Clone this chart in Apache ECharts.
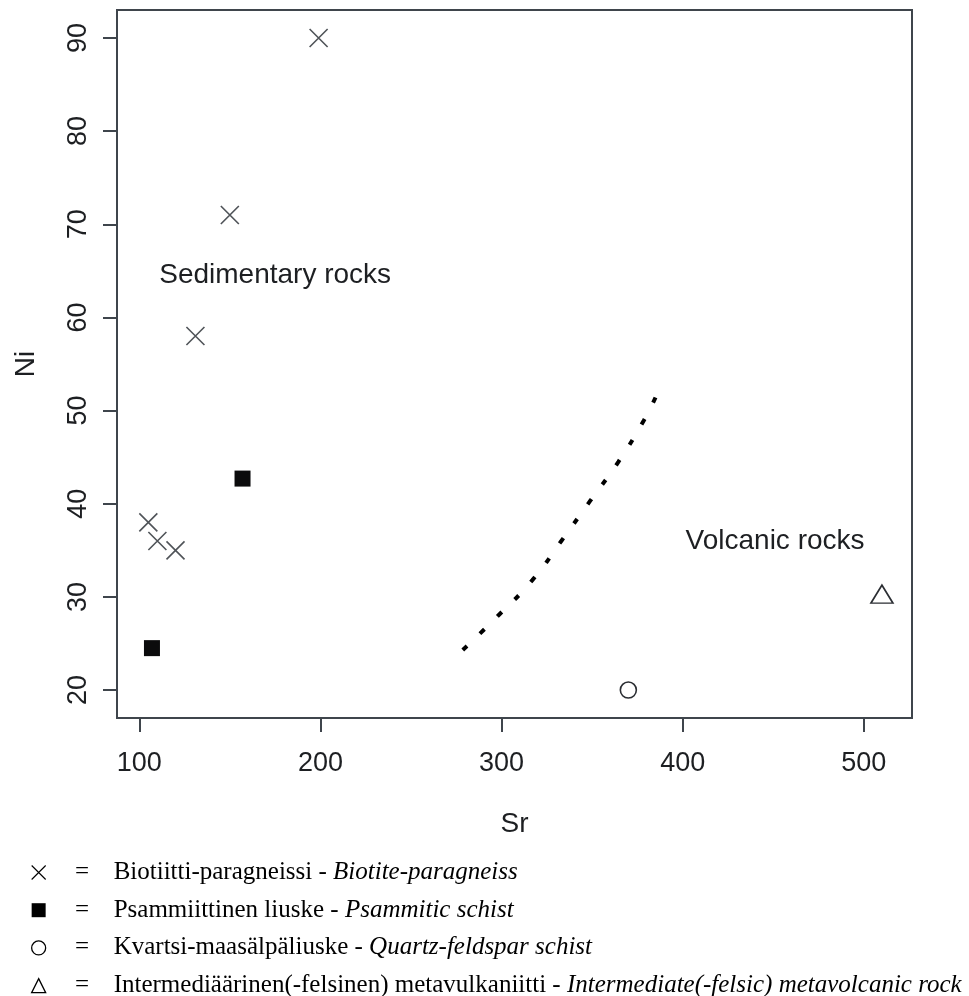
<!DOCTYPE html>
<html>
<head>
<meta charset="utf-8">
<script src="https://cdn.jsdelivr.net/npm/echarts@6/dist/echarts.min.js"></script>
<style>
  html, body { margin: 0; padding: 0; background: #ffffff; }
  #chart { width: 969px; height: 996px; }
</style>
</head>
<body>
<div id="chart"></div>
<script>
// Sr (ppm) and Ni (ppm) for each rock type
const biotiteSr = [199, 150, 131, 105, 110, 120];
const biotiteNi = [90, 71, 58, 38, 36, 35];
const psammiticSr = [157, 107];
const psammiticNi = [42.7, 24.5];
const quartzSr = [370];
const quartzNi = [20];
const metavolcSr = [510];
const metavolcNi = [30.3];

// Dotted field boundary between sedimentary and volcanic rocks
const boundarySr = [278.6, 298.2, 317.0, 333.0, 348.9, 364.5, 378.7, 385.0];
const boundaryNi = [24.3, 28.0, 31.8, 36.0, 40.3, 44.5, 49.0, 51.4];

// Field labels and their anchor points
const fieldNames = ['Sedimentary rocks', 'Volcanic rocks'];
const fieldSr = [175, 451];
const fieldNi = [64.5, 36];

// Axis ticks
const srTicks = [100, 200, 300, 400, 500];
const niTicks = [20, 30, 40, 50, 60, 70, 80, 90];

// Legend texts (Finnish - English)
const seriesFi = [
  'Biotiitti-paragneissi',
  'Psammiittinen liuske',
  'Kvartsi-maasälpäliuske',
  'Intermediäärinen(-felsinen) metavulkaniitti'
];
const seriesEn = [
  'Biotite-paragneiss',
  'Psammitic schist',
  'Quartz-feldspar schist',
  'Intermediate(-felsic) metavolcanic rock'
];

const pairs = (xs, ys) => xs.map((x, i) => [x, ys[i]]);

const AXIS_COLOR = '#3f454c';
const TEXT_COLOR = '#1d1f22';
const SANS = 'Liberation Sans, Arial, sans-serif';
const SERIF = 'Liberation Serif, Times New Roman, serif';
const CROSS = 'path://M0,0L10,10M10,0L0,10';

const chart = echarts.init(document.getElementById('chart'), null, { renderer: 'canvas' });

const serifText = (extra) => Object.assign({
  fontFamily: SERIF, fontSize: 25, color: '#000', lineHeight: 24
}, extra || {});

const option = {
  backgroundColor: '#ffffff',
  animation: false,
  grid: {
    left: 117, right: 57, top: 10, bottom: 278,
    show: true, borderColor: AXIS_COLOR, borderWidth: 2,
    backgroundColor: 'transparent'
  },
  xAxis: {
    type: 'value',
    min: 87.7, max: 526.6,
    name: 'Sr',
    nameLocation: 'middle',
    nameGap: 92,
    nameTextStyle: { fontFamily: SANS, fontSize: 28, color: TEXT_COLOR },
    axisLine: { show: false },
    splitLine: { show: false },
    axisTick: {
      show: true, length: 14, customValues: srTicks,
      lineStyle: { color: AXIS_COLOR, width: 2 }
    },
    axisLabel: {
      show: true, customValues: srTicks, margin: 32,
      fontFamily: SANS, fontSize: 27, color: TEXT_COLOR
    }
  },
  yAxis: {
    type: 'value',
    min: 17.0, max: 93.0,
    name: 'Ni',
    nameLocation: 'middle',
    nameGap: 77,
    nameRotate: 90,
    nameTextStyle: { fontFamily: SANS, fontSize: 28, color: TEXT_COLOR },
    axisLine: { show: false },
    splitLine: { show: false },
    axisTick: {
      show: true, length: 14, customValues: niTicks,
      lineStyle: { color: AXIS_COLOR, width: 2 }
    },
    axisLabel: {
      show: true, customValues: niTicks, margin: 25, rotate: 90,
      fontFamily: SANS, fontSize: 27, color: TEXT_COLOR
    }
  },
  legend: {
    orient: 'vertical',
    left: 26,
    top: 855,
    height: 140,
    padding: 5,
    itemWidth: 14,
    itemHeight: 14,
    itemGap: 12.7,
    selectedMode: false,
    data: [
      { name: seriesFi[0], icon: CROSS, itemStyle: { color: 'transparent', borderColor: '#000', borderWidth: 1.1 } },
      { name: seriesFi[1], icon: 'rect', itemStyle: { color: '#000', borderWidth: 0 } },
      { name: seriesFi[2], icon: 'circle', itemStyle: { color: '#fff', borderColor: '#000', borderWidth: 1.3 } },
      { name: seriesFi[3], icon: 'triangle', itemStyle: { color: '#fff', borderColor: '#000', borderWidth: 1.3 } }
    ],
    formatter: (name) => {
      const i = seriesFi.indexOf(name);
      return '{eq|=}{fi|' + seriesFi[i] + ' - }{en|' + seriesEn[i] + '}';
    },
    textStyle: serifText({
      rich: {
        eq: serifText({ width: 63, align: 'center' }),
        fi: serifText(),
        en: serifText({ fontStyle: 'italic' })
      }
    })
  },
  series: [
    {
      name: seriesFi[0],
      type: 'scatter',
      data: pairs(biotiteSr, biotiteNi),
      symbol: CROSS,
      symbolSize: 18,
      itemStyle: { color: 'transparent', borderColor: '#4f5358', borderWidth: 1.6, opacity: 1 }
    },
    {
      name: seriesFi[1],
      type: 'scatter',
      data: pairs(psammiticSr, psammiticNi),
      symbol: 'rect',
      symbolSize: 16,
      itemStyle: { color: '#0b0b0c', borderWidth: 0, opacity: 1 }
    },
    {
      name: seriesFi[2],
      type: 'scatter',
      data: pairs(quartzSr, quartzNi),
      symbol: 'circle',
      symbolSize: 16,
      itemStyle: { color: '#ffffff', borderColor: '#2b2e33', borderWidth: 1.6, opacity: 1 }
    },
    {
      name: seriesFi[3],
      type: 'scatter',
      data: pairs(metavolcSr, metavolcNi),
      symbol: 'triangle',
      symbolSize: [22, 18],
      itemStyle: { color: '#ffffff', borderColor: '#2b2e33', borderWidth: 1.6, opacity: 1 }
    },
    {
      name: 'boundary',
      type: 'line',
      data: pairs(boundarySr, boundaryNi),
      smooth: true,
      showSymbol: false,
      symbol: 'none',
      silent: true,
      lineStyle: { color: '#000000', width: 4, type: [6, 18.1], cap: 'butt', opacity: 1 },
      z: 3
    },
    {
      name: 'fields',
      type: 'scatter',
      data: fieldNames.map((n, i) => ({ name: n, value: [fieldSr[i], fieldNi[i]] })),
      symbolSize: 1,
      silent: true,
      itemStyle: { color: 'rgba(0,0,0,0)', opacity: 1 },
      label: {
        show: true,
        position: 'inside',
        formatter: (p) => p.name,
        fontFamily: SANS,
        fontSize: 28,
        color: TEXT_COLOR,
        opacity: 1
      },
      emphasis: { disabled: true }
    }
  ]
};

chart.setOption(option);
</script>
</body>
</html>
